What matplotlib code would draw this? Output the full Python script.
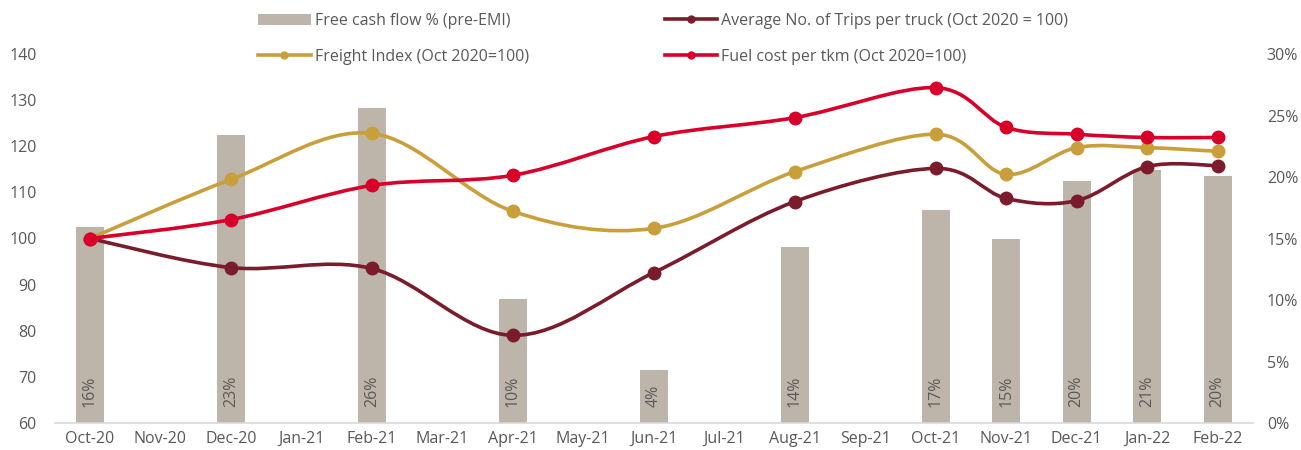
import numpy as np
import matplotlib
matplotlib.use("Agg")
import matplotlib.pyplot as plt
from matplotlib.path import Path
from matplotlib.patches import PathPatch, Patch
from matplotlib.lines import Line2D

plt.rcParams['font.family'] = ['Open Sans', 'DejaVu Sans']

months = ["Oct-20", "Nov-20", "Dec-20", "Jan-21", "Feb-21", "Mar-21", "Apr-21", "May-21",
          "Jun-21", "Jul-21", "Aug-21", "Sep-21", "Oct-21", "Nov-21", "Dec-21", "Jan-22", "Feb-22"]
data_months = ["Oct-20", "Dec-20", "Feb-21", "Apr-21", "Jun-21", "Aug-21",
               "Oct-21", "Nov-21", "Dec-21", "Jan-22", "Feb-22"]
fcf = [16, 23, 26, 10, 4, 14, 17, 15, 20, 21, 20]
fcf_bar = [15.9, 23.4, 25.6, 10.1, 4.3, 14.3, 17.3, 15.0, 19.7, 20.6, 20.1]
freight = [100, 112.8, 122.8, 105.9, 102.2, 114.5, 122.6, 113.9, 119.7, 119.7, 118.9]
trips = [100, 93.7, 93.5, 79.0, 92.6, 108.0, 115.2, 108.7, 108.2, 115.6, 115.8]
fuel = [100, 104.1, 111.5, 113.7, 122.1, 126.2, 132.7, 124.1, 122.6, 121.9, 121.9]

c_bar = "#BDB5A9"
c_freight = "#C99F3B"
c_trips = "#7A1C2B"
c_fuel = "#D8002A"
c_text = "#595959"
fs = 11.5

xpos = [months.index(m) for m in data_months]


def smooth_path(xs, ys):
    # Catmull-Rom style bezier like Excel smoothed lines
    pts = np.column_stack([xs, ys]).astype(float)
    n = len(pts)
    verts = [pts[0]]
    codes = [Path.MOVETO]
    for i in range(n - 1):
        p0 = pts[i - 1] if i > 0 else pts[i]
        p1 = pts[i]
        p2 = pts[i + 1]
        p3 = pts[i + 2] if i + 2 < n else pts[i + 1]
        c1 = p1 + (p2 - p0) / 6.0
        c2 = p2 - (p3 - p1) / 6.0
        verts += [c1, c2, p2]
        codes += [Path.CURVE4] * 3
    return Path(verts, codes)


fig = plt.figure(figsize=(13.01, 4.5), dpi=100)
ax = fig.add_axes([0.042, 0.06, 0.921, 0.82])
ax2 = ax.twinx()
ax.set_zorder(ax2.get_zorder() + 1)
ax.patch.set_visible(False)

ax2.bar(xpos, fcf_bar, width=0.4, color=c_bar, zorder=2)
for x, v in zip(xpos, fcf):
    ax2.text(x, 1.3, f"{v}%", rotation=90, ha='center', va='bottom',
             fontsize=fs, color=c_text)
ax2.set_ylim(0, 30)
ax2.set_yticks(range(0, 31, 5))
ax2.set_yticklabels([f"{t}%" for t in range(0, 31, 5)])

for ys, col in [(trips, c_trips), (freight, c_freight), (fuel, c_fuel)]:
    ax.add_patch(PathPatch(smooth_path(xpos, ys), facecolor='none', edgecolor=col,
                           lw=2.6, zorder=3, capstyle='round'))
    ax.plot(xpos, ys, 'o', color=col, markersize=9, zorder=4)

ax.set_xlim(-0.5, 16.5)
ax.set_ylim(60, 140)
ax.set_yticks(range(60, 141, 10))
ax.set_xticks(range(len(months)))
ax.set_xticklabels(months)

for a in (ax, ax2):
    for s in a.spines.values():
        s.set_visible(False)
    a.tick_params(length=0, labelsize=fs, labelcolor=c_text)
ax.spines['bottom'].set_visible(True)
ax.spines['bottom'].set_color("#D9D9D9")
ax.spines['bottom'].set_linewidth(1.2)
ax.tick_params(axis='x', pad=6)
ax.tick_params(axis='y', pad=13)
ax2.tick_params(axis='y', pad=10)

handles = [Patch(facecolor=c_bar),
           Line2D([], [], color=c_freight, lw=2.6, marker='o', markersize=5),
           Line2D([], [], color=c_trips, lw=2.6, marker='o', markersize=5),
           Line2D([], [], color=c_fuel, lw=2.6, marker='o', markersize=5)]
labels = ["Free cash flow % (pre-EMI)", "Freight Index (Oct 2020=100)",
          "Average No. of Trips per truck (Oct 2020 = 100)", "Fuel cost per tkm (Oct 2020=100)"]
fig.legend(handles, labels, ncol=2, loc='upper left', bbox_to_anchor=(0.1872, 1.003),
           frameon=False, fontsize=fs, labelcolor=c_text, handlelength=3.3,
           handletextpad=0.25, columnspacing=8.5, labelspacing=1.25)

fig.savefig("out.png", dpi=100)
